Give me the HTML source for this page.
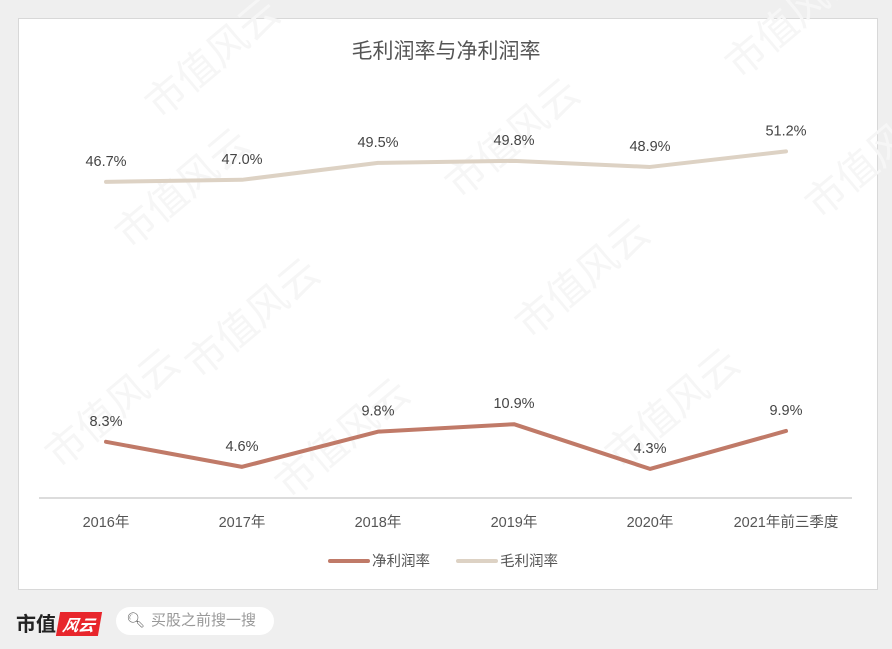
<!DOCTYPE html>
<html><head><meta charset="utf-8"><style>
body{margin:0;width:892px;height:649px;background:#efefef;overflow:hidden;font-family:"Liberation Sans","Noto Sans CJK SC",sans-serif;}
#panel{position:absolute;left:18px;top:18px;width:858px;height:570px;background:#fff;border:1px solid #d8d8d8;}
.logo{position:absolute;left:16px;top:608px;font-size:20px;font-weight:bold;color:#222;}
.logo span{display:inline-block;background:#e8262c;color:#fff;font-size:16px;padding:0 5px;transform:skewX(-10deg);margin-left:2px;font-style:italic;}
.search{position:absolute;left:116px;top:607px;width:158px;height:28px;background:#fff;border-radius:14px;font-size:15px;color:#999;line-height:28px;}
</style></head><body>
<div id="panel"></div>
<svg id="chart" width="892" height="649" style="position:absolute;left:0;top:0"></svg>
<div class="logo">市值<span>风云</span></div>
<div class="search"><span style="margin:0 6px 0 10px;color:#666">&#x1F50D;&#xFE0E;</span>买股之前搜一搜</div>
<script>
const categories=["2016年","2017年","2018年","2019年","2020年","2021年前三季度"];
const netMargin=[8.3,4.6,9.8,10.9,4.3,9.9];
const grossMargin=[46.7,47.0,49.5,49.8,48.9,51.2];
const svg=document.getElementById('chart');
const NS='http://www.w3.org/2000/svg';
const x=i=>106+i*136;
const y=v=>498-v*6.77;
function mk(t,a,p){const e=document.createElementNS(NS,t);for(const k in a)e.setAttribute(k,a[k]);(p||svg).appendChild(e);return e;}
[[130,250],[460,200],[200,380],[530,340],[820,220],[60,470],[290,500],[620,470],[160,120],[740,80]].forEach(p=>{
const w=mk('text',{x:p[0],y:p[1],'font-size':40,fill:'#f6f6f6',transform:`rotate(-40 ${p[0]} ${p[1]})`});w.textContent='市值风云';

});
const t=mk('text',{x:446,y:58,'font-size':21,fill:'#555','text-anchor':'middle'});t.textContent='毛利润率与净利润率';


const ax=mk('line',{x1:39,x2:852,y1:498,y2:498,stroke:'#d0d0d0','stroke-width':1.5});


categories.forEach((c,i)=>{const e=mk('text',{x:x(i),y:527,'font-size':14.5,fill:'#555','text-anchor':'middle'});e.textContent=c;

});
function series(vals,color,name){
const l=mk('polyline',{points:vals.map((v,i)=>x(i)+','+y(v)).join(' '),fill:'none',stroke:color,'stroke-width':4,'stroke-linejoin':'round','stroke-linecap':'round'});


vals.forEach((v,i)=>{const e=mk('text',{x:x(i),y:y(v)-16,'font-size':14.5,fill:'#444','text-anchor':'middle'});e.textContent=v.toFixed(1)+'%';

});}
series(grossMargin,'#ddd2c4','gross-margin');
series(netMargin,'#c07a68','net-margin');
[[330,'#c07a68','净利润率','legend-net-margin'],[458,'#ddd2c4','毛利润率','legend-gross-margin']].forEach(L=>{
const g=mk('g',{});

mk('line',{x1:L[0],x2:L[0]+38,y1:561,y2:561,stroke:L[1],'stroke-width':4,'stroke-linecap':'round'},g);
const e=mk('text',{x:L[0]+42,y:566,'font-size':14.5,fill:'#555'},g);e.textContent=L[2];});
</script>
</body></html>
